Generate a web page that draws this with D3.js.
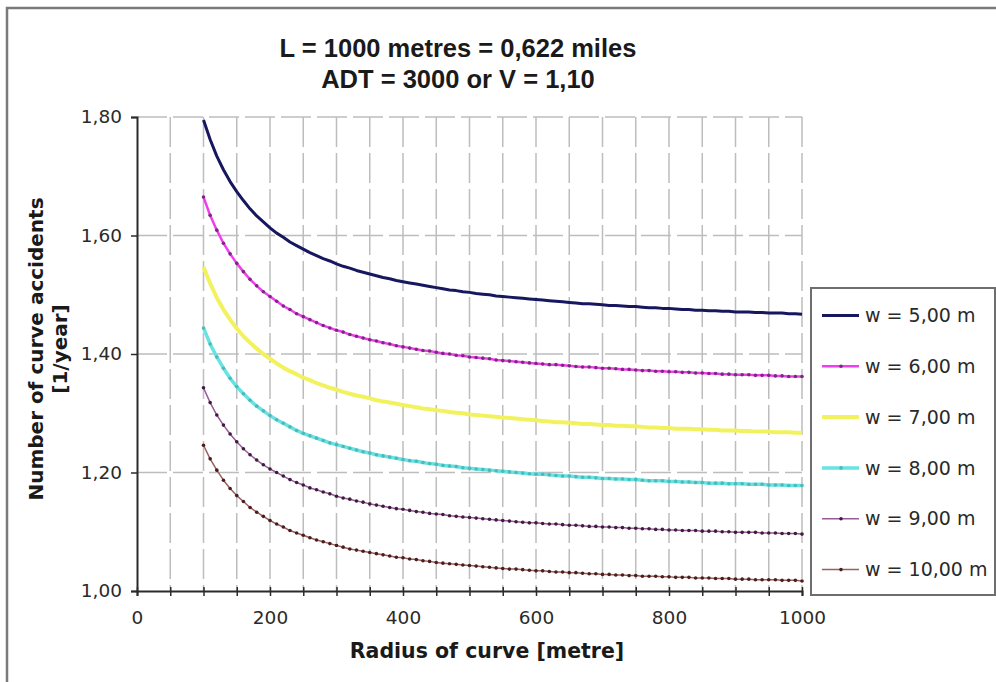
<!DOCTYPE html>
<html>
<head>
<meta charset="utf-8">
<script src="https://cdn.jsdelivr.net/npm/d3@7"></script>
<style>
	body { margin: 0; background: #fff; }
	svg { display: block; }
</style>
</head>
<body>
<script>
// radius of curve [metre]
const RADIUS = [
	100, 110, 120, 130, 140, 150, 160, 170, 180, 190,
	200, 210, 220, 230, 240, 250, 260, 270, 280, 290,
	300, 310, 320, 330, 340, 350, 360, 370, 380, 390,
	400, 410, 420, 430, 440, 450, 460, 470, 480, 490,
	500, 510, 520, 530, 540, 550, 560, 570, 580, 590,
	600, 610, 620, 630, 640, 650, 660, 670, 680, 690,
	700, 710, 720, 730, 740, 750, 760, 770, 780, 790,
	800, 810, 820, 830, 840, 850, 860, 870, 880, 890,
	900, 910, 920, 930, 940, 950, 960, 970, 980, 990,
	1000
];

// number of curve accidents [1/year], one array per road width
const W5 = [
	1.795, 1.762, 1.734, 1.711, 1.691, 1.674, 1.659, 1.645, 1.633, 1.623,
	1.613, 1.604, 1.597, 1.589, 1.583, 1.577, 1.571, 1.566, 1.561, 1.557,
	1.552, 1.548, 1.545, 1.541, 1.538, 1.535, 1.532, 1.529, 1.527, 1.524,
	1.522, 1.520, 1.518, 1.516, 1.514, 1.512, 1.510, 1.508, 1.507, 1.505,
	1.504, 1.502, 1.501, 1.500, 1.498, 1.497, 1.496, 1.495, 1.494, 1.493,
	1.492, 1.491, 1.490, 1.489, 1.488, 1.487, 1.486, 1.485, 1.485, 1.484,
	1.483, 1.482, 1.482, 1.481, 1.480, 1.480, 1.479, 1.478, 1.478, 1.477,
	1.477, 1.476, 1.475, 1.475, 1.474, 1.474, 1.473, 1.473, 1.472, 1.472,
	1.471, 1.471, 1.471, 1.470, 1.470, 1.469, 1.469, 1.469, 1.468, 1.468,
	1.467
];
const W6 = [
	1.665, 1.634, 1.609, 1.587, 1.569, 1.553, 1.539, 1.526, 1.515, 1.505,
	1.497, 1.489, 1.481, 1.475, 1.468, 1.463, 1.458, 1.453, 1.448, 1.444,
	1.440, 1.437, 1.433, 1.430, 1.427, 1.424, 1.422, 1.419, 1.417, 1.414,
	1.412, 1.410, 1.408, 1.406, 1.405, 1.403, 1.401, 1.400, 1.398, 1.397,
	1.395, 1.394, 1.393, 1.392, 1.390, 1.389, 1.388, 1.387, 1.386, 1.385,
	1.384, 1.383, 1.382, 1.382, 1.381, 1.380, 1.379, 1.378, 1.378, 1.377,
	1.376, 1.376, 1.375, 1.374, 1.374, 1.373, 1.372, 1.372, 1.371, 1.371,
	1.370, 1.370, 1.369, 1.369, 1.368, 1.368, 1.367, 1.367, 1.366, 1.366,
	1.365, 1.365, 1.365, 1.364, 1.364, 1.364, 1.363, 1.363, 1.362, 1.362,
	1.362
];
const W7 = [
	1.547, 1.519, 1.495, 1.475, 1.458, 1.443, 1.430, 1.419, 1.409, 1.400,
	1.392, 1.384, 1.377, 1.371, 1.366, 1.360, 1.356, 1.351, 1.347, 1.343,
	1.340, 1.336, 1.333, 1.330, 1.328, 1.325, 1.322, 1.320, 1.318, 1.316,
	1.314, 1.312, 1.310, 1.308, 1.307, 1.305, 1.304, 1.302, 1.301, 1.300,
	1.298, 1.297, 1.296, 1.295, 1.294, 1.293, 1.292, 1.291, 1.290, 1.289,
	1.288, 1.287, 1.286, 1.285, 1.285, 1.284, 1.283, 1.282, 1.282, 1.281,
	1.280, 1.280, 1.279, 1.279, 1.278, 1.278, 1.277, 1.276, 1.276, 1.275,
	1.275, 1.274, 1.274, 1.274, 1.273, 1.273, 1.272, 1.272, 1.271, 1.271,
	1.271, 1.270, 1.270, 1.269, 1.269, 1.269, 1.268, 1.268, 1.268, 1.267,
	1.267
];
const W8 = [
	1.444, 1.417, 1.395, 1.376, 1.359, 1.345, 1.333, 1.322, 1.312, 1.304,
	1.296, 1.289, 1.283, 1.277, 1.271, 1.266, 1.262, 1.258, 1.254, 1.250,
	1.247, 1.244, 1.241, 1.238, 1.235, 1.233, 1.230, 1.228, 1.226, 1.224,
	1.222, 1.220, 1.219, 1.217, 1.215, 1.214, 1.212, 1.211, 1.210, 1.208,
	1.207, 1.206, 1.205, 1.204, 1.203, 1.202, 1.201, 1.200, 1.199, 1.198,
	1.197, 1.197, 1.196, 1.195, 1.194, 1.194, 1.193, 1.192, 1.192, 1.191,
	1.190, 1.190, 1.189, 1.189, 1.188, 1.188, 1.187, 1.186, 1.186, 1.186,
	1.185, 1.185, 1.184, 1.184, 1.183, 1.183, 1.182, 1.182, 1.182, 1.181,
	1.181, 1.181, 1.180, 1.180, 1.180, 1.179, 1.179, 1.179, 1.178, 1.178,
	1.178
];
const W9 = [
	1.343, 1.318, 1.297, 1.280, 1.265, 1.252, 1.240, 1.230, 1.221, 1.213,
	1.206, 1.200, 1.194, 1.188, 1.183, 1.179, 1.174, 1.171, 1.167, 1.164,
	1.160, 1.157, 1.155, 1.152, 1.150, 1.147, 1.145, 1.143, 1.141, 1.139,
	1.138, 1.136, 1.134, 1.133, 1.131, 1.130, 1.129, 1.127, 1.126, 1.125,
	1.124, 1.123, 1.122, 1.121, 1.120, 1.119, 1.118, 1.117, 1.116, 1.115,
	1.115, 1.114, 1.113, 1.113, 1.112, 1.111, 1.111, 1.110, 1.109, 1.109,
	1.108, 1.108, 1.107, 1.107, 1.106, 1.106, 1.105, 1.105, 1.104, 1.104,
	1.103, 1.103, 1.102, 1.102, 1.102, 1.101, 1.101, 1.101, 1.100, 1.100,
	1.099, 1.099, 1.099, 1.099, 1.098, 1.098, 1.098, 1.097, 1.097, 1.097,
	1.096
];
const W10 = [
	1.246, 1.223, 1.204, 1.187, 1.173, 1.161, 1.151, 1.141, 1.133, 1.126,
	1.119, 1.113, 1.108, 1.102, 1.098, 1.094, 1.090, 1.086, 1.083, 1.080,
	1.077, 1.074, 1.071, 1.069, 1.067, 1.065, 1.063, 1.061, 1.059, 1.057,
	1.056, 1.054, 1.053, 1.051, 1.050, 1.048, 1.047, 1.046, 1.045, 1.044,
	1.043, 1.042, 1.041, 1.040, 1.039, 1.038, 1.037, 1.037, 1.036, 1.035,
	1.034, 1.034, 1.033, 1.032, 1.032, 1.031, 1.031, 1.030, 1.029, 1.029,
	1.028, 1.028, 1.027, 1.027, 1.026, 1.026, 1.025, 1.025, 1.025, 1.024,
	1.024, 1.023, 1.023, 1.023, 1.022, 1.022, 1.022, 1.021, 1.021, 1.021,
	1.020, 1.020, 1.020, 1.019, 1.019, 1.019, 1.019, 1.018, 1.018, 1.018,
	1.017
];

const SERIES_LABELS = ["w = 5,00 m", "w = 6,00 m", "w = 7,00 m", "w = 8,00 m", "w = 9,00 m", "w = 10,00 m"];
const X_TICKS = [0, 200, 400, 600, 800, 1000];
const X_GRID = [50, 100, 150, 200, 250, 300, 350, 400, 450, 500, 550, 600, 650, 700, 750, 800, 850, 900, 950, 1000];
const Y_TICKS = [1.00, 1.20, 1.40, 1.60, 1.80];
const TITLE_LINES = ["L = 1000 metres = 0,622 miles", "ADT = 3000 or V = 1,10"];

const width = 996, height = 682;
const margin = { top: 117, right: 195, bottom: 91, left: 137 };

const styles = [
	{ color: "#17175f", lineWidth: 3, marker: null },
	{ color: "#f23cf2", lineWidth: 2.5, marker: "#7b2a7b" },
	{ color: "#f2f25e", lineWidth: 4, marker: null },
	{ color: "#66e3e3", lineWidth: 3.5, marker: "#4fb8b8" },
	{ color: "#9a5a9a", lineWidth: 1.5, marker: "#3e1c3e" },
	{ color: "#9a6060", lineWidth: 1.5, marker: "#4a1e1e" },
];
const series = [W5, W6, W7, W8, W9, W10].map((values, i) => ({
	label: SERIES_LABELS[i],
	points: values.map((v, j) => [RADIUS[j], v]),
	...styles[i],
}));

const x = d3.scaleLinear()
	.domain([0, 1000])
	.range([margin.left, width - margin.right + 1]);
const y = d3.scaleLinear()
	.domain([1, 1.8])
	.range([height - margin.bottom, margin.top]);
const comma = d => d3.format(".2f")(d).replace(".", ",");

const svg = d3.select("body")
	.append("svg")
		.attr("width", width)
		.attr("height", height)
		.style("font-family", "'DejaVu Sans', Verdana, sans-serif");

// outer chart frame, cut by the page edge on the right and bottom
svg.append("rect")
	.attr("x", 7)
	.attr("y", 8)
	.attr("width", 1000)
	.attr("height", 700)
	.attr("fill", "#fff")
	.attr("stroke", "#7a7a7a")
	.attr("stroke-width", 2.5);

// title
svg.append("g")
	.attr("class", "title")
	.selectAll("text")
		.data(TITLE_LINES)
		.enter()
		.append("text")
			.attr("x", 458)
			.attr("y", (d, i) => 57 + i * 31)
			.attr("text-anchor", "middle")
			.attr("font-family", "'Liberation Sans', Arial, sans-serif")
			.attr("font-weight", "bold")
			.attr("font-size", 25.5)
			.attr("fill", "#1a1a1a")
			.text(d => d);

// grid
let grid = svg.append("g")
	.attr("class", "grid")
	.attr("stroke", "#bdbdbd")
	.attr("stroke-width", 1.5)
	.attr("stroke-dasharray", "30,6");
grid.selectAll("line.v")
	.data(X_GRID)
	.enter()
	.append("line")
		.attr("class", "v")
		.attr("x1", d => x(d))
		.attr("x2", d => x(d))
		.attr("y1", y(1.8))
		.attr("y2", y(1));
grid.selectAll("line.h")
	.data(Y_TICKS.filter(d => d > 1))
	.enter()
	.append("line")
		.attr("class", "h")
		.attr("x1", x(0))
		.attr("x2", x(1000))
		.attr("y1", d => y(d))
		.attr("y2", d => y(d));

// axes
let axisX = svg.append("g")
	.attr("class", "axis x")
	.attr("transform", `translate(0, ${y(1)})`)
	.call(d3.axisBottom(x).tickValues(X_GRID.concat([0])).tickSize(5).tickFormat(d => X_TICKS.includes(d) ? d : ""));
axisX.selectAll(".tick line").attr("y1", -4);
axisX.selectAll(".tick text")
	.attr("dy", 0)
	.attr("y", 33)
	.attr("font-size", 18.5);

let axisY = svg.append("g")
	.attr("class", "axis y")
	.attr("transform", `translate(${x(0)}, 0)`)
	.call(d3.axisLeft(y).tickValues(Y_TICKS).tickSize(6).tickPadding(9).tickFormat(comma));
axisY.selectAll(".tick text")
	.attr("font-size", 18.5);

svg.selectAll(".axis path.domain")
	.attr("stroke", "#2b2b2b")
	.attr("stroke-width", 2);
svg.selectAll(".axis .tick line")
	.attr("stroke", "#2b2b2b")
	.attr("stroke-width", 1.5);
svg.selectAll(".axis text")
	.attr("font-family", "'DejaVu Sans', Verdana, sans-serif")
	.attr("fill", "#2a2a2a");

// axis titles
svg.append("text")
	.attr("x", 487)
	.attr("y", 658)
	.attr("text-anchor", "middle")
	.attr("font-weight", "bold")
	.attr("font-size", 20.5)
	.attr("fill", "#1a1a1a")
	.text("Radius of curve [metre]");

let titleY = svg.append("text")
	.attr("transform", "translate(43, 349) rotate(-90)")
	.attr("text-anchor", "middle")
	.attr("font-weight", "bold")
	.attr("font-size", 20)
	.attr("fill", "#1a1a1a");
titleY.append("tspan")
	.attr("x", 0)
	.text("Number of curve accidents");
titleY.append("tspan")
	.attr("x", 0)
	.attr("dy", 24)
	.text("[1/year]");

// series
const line = d3.line()
	.x(d => x(d[0]))
	.y(d => y(d[1]));

let seriesGroups = svg.append("g")
	.attr("class", "chart")
	.selectAll("g")
		.data(series)
		.enter()
		.append("g");
seriesGroups.append("path")
	.attr("fill", "none")
	.attr("stroke", d => d.color)
	.attr("stroke-width", d => d.lineWidth)
	.attr("stroke-linejoin", "round")
	.attr("d", d => line(d.points));
seriesGroups.filter(d => d.marker)
	.selectAll("circle")
		.data(d => d.points.map(p => ({ p: p, color: d.marker })))
		.enter()
		.append("circle")
			.attr("cx", d => x(d.p[0]))
			.attr("cy", d => y(d.p[1]))
			.attr("r", 1.8)
			.attr("fill", d => d.color);

// legend
const legendBox = { x: 811, y: 288, width: 184, height: 307 };
const legendRow = d3.scaleBand()
	.domain(SERIES_LABELS)
	.range([legendBox.y + 2, legendBox.y + legendBox.height]);

let legend = svg.append("g")
	.attr("class", "legend");
legend.append("rect")
	.attr("x", legendBox.x)
	.attr("y", legendBox.y)
	.attr("width", legendBox.width)
	.attr("height", legendBox.height)
	.attr("fill", "#fff")
	.attr("stroke", "#6e6e6e")
	.attr("stroke-width", 2);

let legendItems = legend.selectAll("g")
	.data(series)
	.enter()
	.append("g")
		.attr("transform", d => `translate(${legendBox.x}, ${legendRow(d.label) + legendRow.bandwidth() / 2})`);
legendItems.append("line")
	.attr("x1", 11)
	.attr("x2", 48)
	.attr("stroke", d => d.color)
	.attr("stroke-width", d => d.lineWidth);
legendItems.filter(d => d.marker)
	.append("circle")
		.attr("cx", 30)
		.attr("r", 1.8)
		.attr("fill", d => d.marker);
legendItems.append("text")
	.attr("x", 54)
	.attr("dy", "0.35em")
	.attr("font-size", 19)
	.attr("fill", "#2a2a2a")
	.text(d => d.label);
</script>
</body>
</html>
